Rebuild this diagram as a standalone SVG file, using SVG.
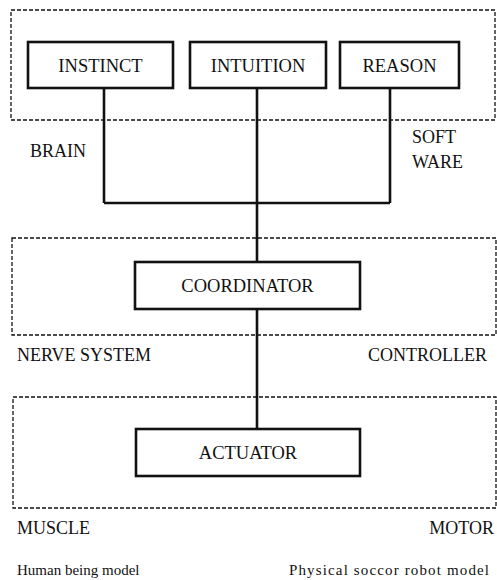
<svg xmlns="http://www.w3.org/2000/svg" width="497" height="580" viewBox="0 0 497 580">
<style>
.group{fill:none;stroke:#111;stroke-width:1.3;stroke-dasharray:4 2}
.box{fill:#fff;stroke:#111;stroke-width:2.6}
.wire{fill:none;stroke:#111;stroke-width:2.6}
text{font-family:"Liberation Serif","Times New Roman",serif;fill:#111}
.bt{font-size:18.5px;text-anchor:middle}
.lb{font-size:18px}
.sm{font-size:15px}
</style>
<rect width="497" height="580" fill="#fff"/>
<g id="regions">
<rect class="group" x="11" y="10" width="484" height="110"/>
<rect class="group" x="12" y="238" width="484" height="97"/>
<rect class="group" x="13" y="397" width="483" height="111"/>
</g>
<g id="connectors">
<path class="wire" d="M104 88V203M257 88V262M390 88V203M104 203H390"/>
<path class="wire" d="M257 309V429"/>
</g>
<g id="instinct"><rect class="box" x="28" y="42" width="145" height="46"/><text class="bt" x="100.5" y="72">INSTINCT</text></g>
<g id="intuition"><rect class="box" x="190" y="42" width="136" height="46"/><text class="bt" x="258" y="72">INTUITION</text></g>
<g id="reason"><rect class="box" x="340" y="42" width="119" height="46"/><text class="bt" x="399.5" y="72">REASON</text></g>
<g id="coordinator"><rect class="box" x="135" y="262" width="225" height="47"/><text class="bt" x="247.5" y="292">COORDINATOR</text></g>
<g id="actuator"><rect class="box" x="136" y="429" width="224" height="47"/><text class="bt" x="248" y="459">ACTUATOR</text></g>
<g id="labels">
<text class="lb" x="30" y="157">BRAIN</text>
<text class="lb" x="412" y="143">SOFT</text>
<text class="lb" x="412" y="168">WARE</text>
<text class="lb" x="17" y="361">NERVE SYSTEM</text>
<text class="lb" x="368" y="361">CONTROLLER</text>
<text class="lb" x="17" y="534">MUSCLE</text>
<text class="lb" x="494" y="534" text-anchor="end">MOTOR</text>
<text class="sm" x="17" y="575">Human being model</text>
<text class="sm" x="289" y="575" textLength="200">Physical soccor robot model</text>
</g>
</svg>
